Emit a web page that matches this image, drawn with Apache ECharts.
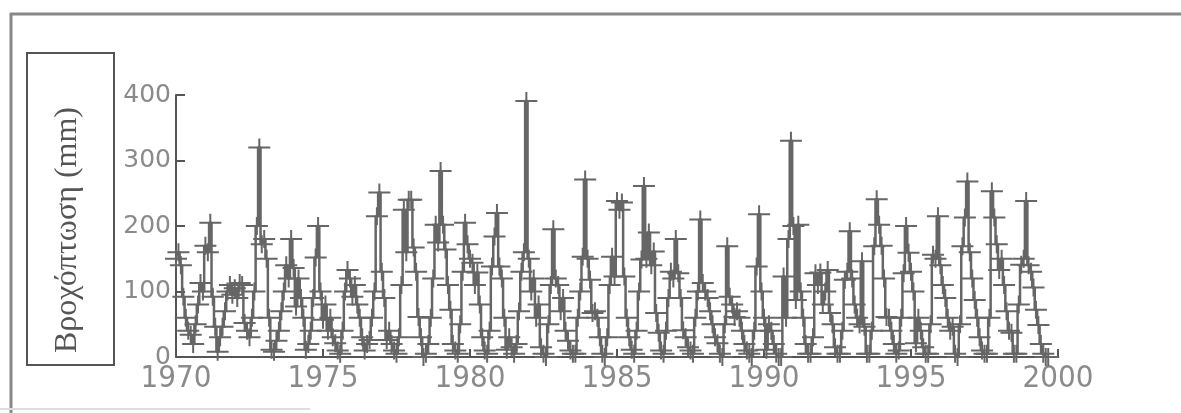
<!DOCTYPE html>
<html>
<head>
  <meta charset="utf-8">
  <title>Βροχόπτωση 1970-2000</title>
  <script src="https://cdn.jsdelivr.net/npm/echarts@6/dist/echarts.min.js"></script>
  <style>
    html, body { margin: 0; padding: 0; background: #fff; }
    #chart { width: 1181px; height: 413px; }
  </style>
</head>
<body>
  <div id="chart"></div>

  <script>
    // monthly rainfall (mm), Jan..Dec
    const rain1970s = [
      150, 160, 140,  92,  60,  40,  34,  20,  50,  80, 113, 100,
      170, 160, 205,  92,  46,   8,  30,  46,  70, 100, 110,  95,
      105,  90, 113, 110,  52,  40,  30,  60, 100, 200, 320, 172,
      180, 150,  60,  11,   8,  25,  40,  70, 100, 140, 120, 180,
      136,  77, 120,  90,  60,  11,  20,  40,  90, 152, 200, 100,
       57,  80,  40,  60,  30,  21,  10,   5,  40, 100, 133, 120,
       92, 110,  80,  60,  30,  10,  20,  26,  60, 100, 215, 251,
      130,  90,  26,  40,  20,  10,   5,  30, 110, 225, 160, 240,
      240, 167, 130,  61,  30,   0,   5,  20,  60, 120, 202, 175,
      284, 202, 164, 110,  72,  20,  10,   5,  50, 130, 205, 172
    ];
    const rain1980s = [
      150, 144, 110, 129,  80,  30,  10,   5,  40, 138, 184, 220,
      138, 120,  60,  11,  30,  15,   5,  20,  70, 130, 160, 391,
      150, 100, 120,  60,  80,  15,   5,   0,  50, 110, 195, 120,
      110,  70,  90,  40,  25,  10,   5,   5,  60, 100, 153, 271,
      150, 118,  67,  70,  60,  30,   5,   0,  30, 110, 153, 123,
      238, 225, 236, 123,  60,  30,  11,   5,  40, 100, 149, 261,
      150, 190, 140, 161,  67,  37,  10,   5,  40,  90, 130, 120,
      180, 128,  90,  41,  30,  15,  10,   5,  60, 100, 210, 113,
      100,  90,  70,  50,  30,  21,   5,   0,  50, 169,  92,  80,
       61,  70,  60,  40,  20,  10,   5,   0,  40, 138, 218, 100
    ];
    const rain1990s = [
       60,  11,  50,  40,  20,   5,   0,   0, 123,  60, 180, 330,
      200,  87, 202, 100,  60,  20,   5,   5,  30, 128, 110, 129,
       80, 100, 133,  67,  50,  15,   5,   5,  40, 118, 130, 192,
      120,  80,  60,  50, 146,  46,   5,   5,  40, 169, 241, 202,
      170, 120,  61,  60,  40,  20,   5,  10,  60, 128, 200, 159,
      130, 100,  21,  60,  40,  15,   5,   5,  50, 156, 150, 215,
      140, 110,  90,  60,  40,  46,   5,   0,  50, 169, 213, 268,
      160, 120,  87,  60,  30,  10,   5,   5,  60, 253, 213, 172,
      133, 150, 110,  70,  40,  37,   5,   5,  80, 141, 150, 238,
      140, 130, 106,  72,  49,  20,   5,   0,   0
    ];
    const startYear = 1970;
    const yearTicks = [1970, 1975, 1980, 1985, 1990, 1995, 2000];
    const rainTicks = [0, 100, 200, 300, 400];
    const yLabel = 'Βροχόπτωση (mm)';

    const rain = rain1970s.concat(rain1980s, rain1990s);
    const points = rain.map((v, i) => [startYear + i / 12, v]);

    const lineColor = '#666';
    // "+" marker, drawn filled so arm thickness stays fixed
    const plus = 'path://M0,8 H22 V10 H0 Z M10,0 H12 V18 H10 Z';

    const chart = echarts.init(document.getElementById('chart'));

    chart.setOption({
      animation: false,
      backgroundColor: '#fff',
      grid: { left: 176, right: 123, top: 95, bottom: 56 },
      xAxis: {
        type: 'value',
        min: yearTicks[0],
        max: yearTicks[yearTicks.length - 1],
        interval: 5,
        axisLine: { lineStyle: { color: '#555', width: 2 } },
        axisTick: { inside: true, length: 8, lineStyle: { color: '#555', width: 2 } },
        splitLine: { show: false },
        axisLabel: {
          margin: 6,
          color: '#8a8a8a',
          fontSize: 31,
          fontFamily: "'Liberation Sans Narrow', 'DejaVu Sans Condensed', sans-serif",
          formatter: v => String(v)
        }
      },
      yAxis: {
        type: 'value',
        min: rainTicks[0],
        max: rainTicks[rainTicks.length - 1],
        interval: 100,
        axisLine: { show: true, lineStyle: { color: '#555', width: 2 } },
        axisTick: { show: true, inside: true, length: 9, lineStyle: { color: '#555', width: 2 } },
        splitLine: { show: false },
        axisLabel: {
          margin: 5,
          color: '#8a8a8a',
          fontSize: 25,
          fontFamily: "'DejaVu Sans', sans-serif",
          formatter: v => String(v)
        }
      },
      series: [
        {
          type: 'line',
          data: points,
          step: 'middle',
          showAllSymbol: true,
          symbol: plus,
          symbolSize: [22, 18],
          itemStyle: { color: lineColor },
          lineStyle: { color: lineColor, width: 2.5 }
        }
      ],
      graphic: [
        // outer frame
        { type: 'line', shape: { x1: 10, y1: 14, x2: 1181, y2: 14 }, style: { stroke: '#888', lineWidth: 3 } },
        { type: 'line', shape: { x1: 11, y1: 13, x2: 11, y2: 413 }, style: { stroke: '#888', lineWidth: 3 } },
        { type: 'line', shape: { x1: 0, y1: 409, x2: 310, y2: 409 }, style: { stroke: '#ddd', lineWidth: 2 } },
        // boxed axis title
        { type: 'rect', shape: { x: 27, y: 53, width: 87, height: 312 }, style: { fill: '#fff', stroke: '#555', lineWidth: 2 } },
        {
          type: 'text',
          x: 68, y: 230,
          rotation: Math.PI / 2,
          style: {
            text: yLabel,
            fill: '#555',
            font: "32px 'Liberation Serif', 'DejaVu Serif', serif",
            align: 'center',
            verticalAlign: 'middle'
          }
        }
      ]
    });
  </script>
</body>
</html>
